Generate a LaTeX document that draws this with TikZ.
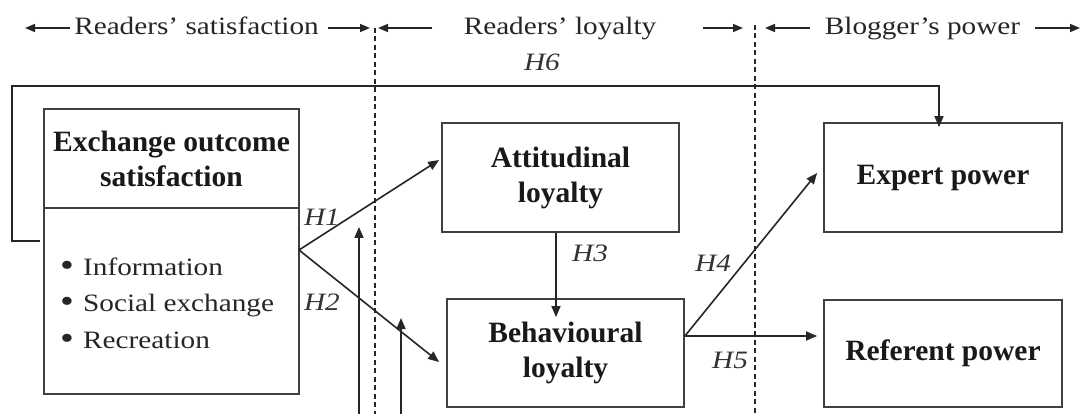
\documentclass[tikz,border=0pt]{standalone}
\usepackage{fontspec}
\usepackage{graphicx}
\setmainfont{Liberation Serif}
\newfontfamily\lblfont{Liberation Serif}[FakeStretch=1.17]
\usetikzlibrary{arrows.meta}

\tikzset{
  box/.style={draw=black!75, line width=1.8pt, minimum width=237pt, minimum height=109pt,
    inner sep=0pt, align=center, text=black!90,
    font=\fontsize{29.5}{35}\selectfont\bfseries},
  link/.style={draw=black!85, line width=1.6pt, -{Triangle[length=11pt,width=9pt]}},
  hyp/.style={inner sep=0pt, text=black!80, font=\lblfont\fontsize{25}{30}\selectfont\itshape},
  head/.style={inner sep=0pt, anchor=base, text=black!85, font=\lblfont\fontsize{25}{30}\selectfont},
  headarrow/.style={draw=black!85, line width=1.5pt, -{Triangle[length=10pt,width=8pt]}},
  divider/.style={draw=black!85, line width=2pt, dash pattern=on 5pt off 3.5pt},
  items/.style={inner sep=0pt, anchor=west, align=left, text=black!85,
    font=\lblfont\fontsize{25}{36.5}\selectfont},
}
\newcommand{\itembullet}{\makebox[23pt][l]{\raisebox{-1pt}{\scalebox{1.35}{\textbullet}}}}

\begin{document}
\begin{tikzpicture}[x=1pt,y=-1pt]
\useasboundingbox (0,0) rectangle (1085,414);
\fill[white] (0,0) rectangle (1085,414);

% section headings
\node[head] (hsat)  at (196.5,35) {Readers’ satisfaction};
\node[head] (hloy)  at (560,35)   {Readers’ loyalty};
\node[head] (hblog) at (922.5,35) {Blogger’s power};

\coordinate (a1s) at (70,28);   \coordinate (a1e) at (25,28);
\coordinate (a2s) at (328,28);  \coordinate (a2e) at (370,28);
\coordinate (a3s) at (432,28);  \coordinate (a3e) at (378,28);
\coordinate (a4s) at (703,28);  \coordinate (a4e) at (743,28);
\coordinate (a5s) at (810,28);  \coordinate (a5e) at (765,28);
\coordinate (a6s) at (1035,28); \coordinate (a6e) at (1080,28);
\foreach \i in {1,...,6} \draw[headarrow] (a\i s) -- (a\i e);

% section dividers
\coordinate (d1t) at (375,28); \coordinate (d1b) at (375,414);
\coordinate (d2t) at (755,25); \coordinate (d2b) at (755,414);
\draw[divider] (d1t) -- (d1b);
\draw[divider] (d2t) -- (d2b);

% constructs
\node[box, minimum width=255pt, minimum height=99pt] (exchT) at (171.5,158.5)
  {Exchange outcome\\satisfaction};
\node[box, minimum width=255pt, minimum height=186pt] (exchB) at (171.5,301) {};
\node[items] (list) at (60,303.5)
  {\itembullet Information\\
   \itembullet Social exchange\\
   \itembullet Recreation};

\node[box] (att) at (560.5,177.5) {Attitudinal\\loyalty};
\node[box, minimum height=108pt] (beh) at (565.5,353) {Behavioural\\loyalty};
\node[box, minimum width=238pt] (exp) at (943,177.5) {Expert power};
\node[box, minimum width=238pt, minimum height=107pt] (ref) at (943,353.5) {Referent power};

% hypothesised paths
\coordinate (src) at (299,250);
\draw[link] (src) -- ([shift={(-2,-17.5)}]att.west);
\draw[link] (src) -- ([shift={(-7,9)}]beh.west);
\draw[link, shorten >=-19pt] ([xshift=-4.5pt]att.south) -- ([xshift=-4.5pt]att.south |- beh.north);
\coordinate (bsrc) at ([yshift=17pt]beh.east);
\draw[link] (bsrc) -- ([shift={(-6,-4.5)}]exp.west);
\draw[link, shorten >=6pt] (bsrc) -- (bsrc -| ref.west);
\coordinate (h6c) at (12,86);
\draw[link, shorten >=-5pt] ([shift={(-3,-60)}]exchB.west) -| (h6c) -| ([xshift=-4pt]exp.north);

% arrows entering from below
\coordinate (u1) at (359,414); \coordinate (u1t) at (359,227);
\coordinate (u2) at (401,414); \coordinate (u2t) at (401,318);
\draw[link] (u1) -- (u1t);
\draw[link] (u2) -- (u2t);

% hypothesis labels
\node[hyp] (h1) at (322,217) {H1};
\node[hyp] (h2) at (322,302) {H2};
\node[hyp] (h3) at (590,253) {H3};
\node[hyp] (h4) at (713,263) {H4};
\node[hyp] (h5) at (730,360) {H5};
\node[hyp] (h6) at (542,62)  {H6};
\end{tikzpicture}
\end{document}
